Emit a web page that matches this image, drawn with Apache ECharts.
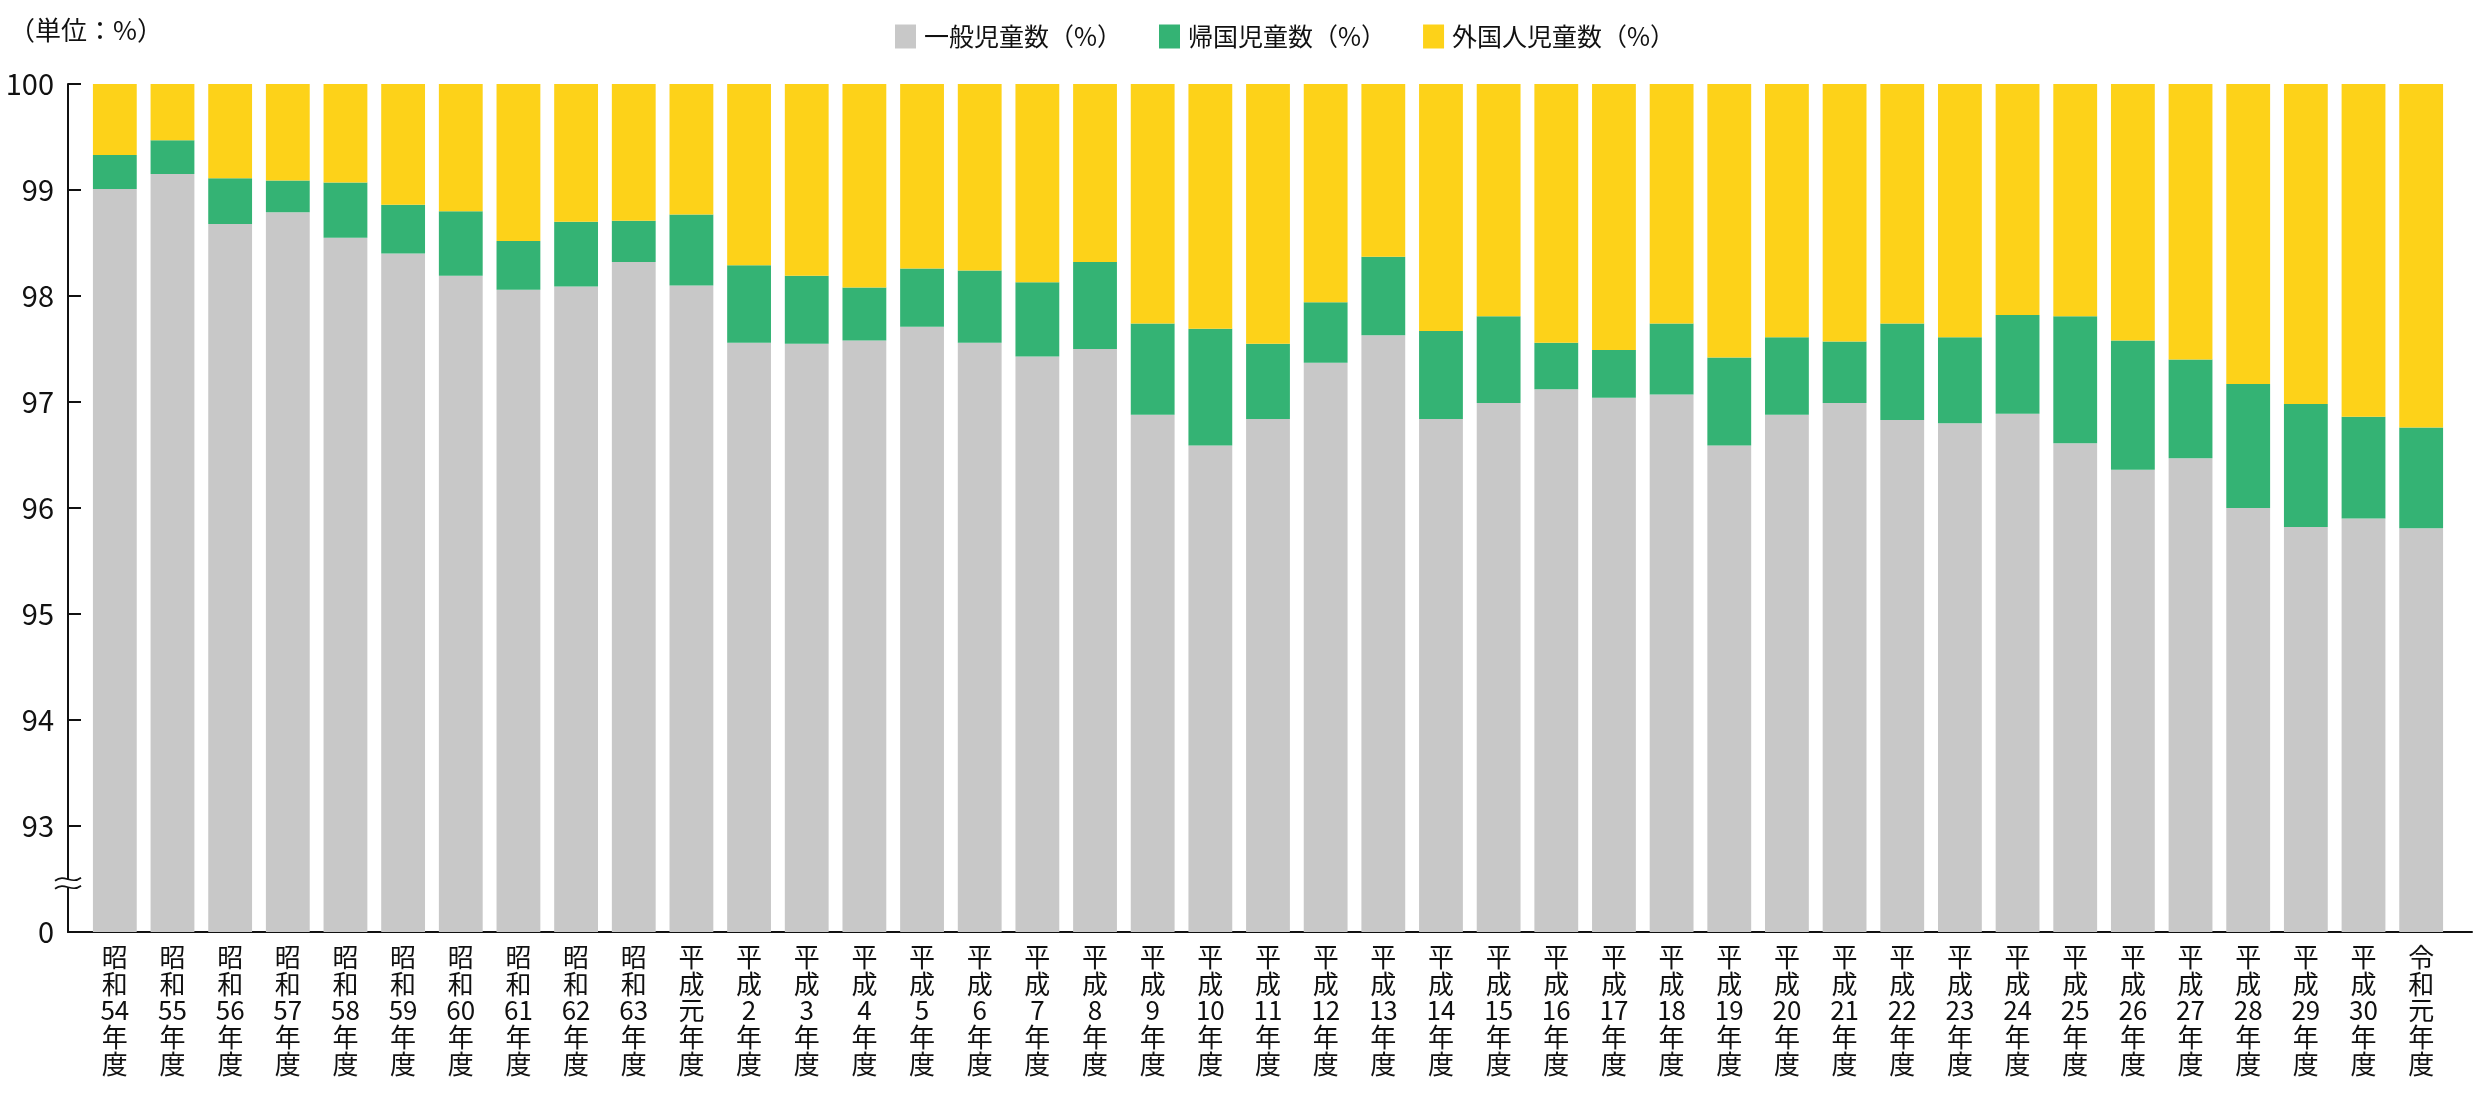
<!DOCTYPE html>
<html>
<head>
<meta charset="utf-8">
<script src="https://cdn.jsdelivr.net/npm/echarts@6/dist/echarts.min.js"></script>
<style>
html,body{margin:0;padding:0;background:#fff;}
#chart{width:2478px;height:1100px;}
</style>
</head>
<body>
<div id="chart"></div>
<script>
const categories = ['昭和54年度','昭和55年度','昭和56年度','昭和57年度','昭和58年度','昭和59年度','昭和60年度','昭和61年度','昭和62年度','昭和63年度',
  '平成元年度','平成2年度','平成3年度','平成4年度','平成5年度','平成6年度','平成7年度','平成8年度','平成9年度','平成10年度',
  '平成11年度','平成12年度','平成13年度','平成14年度','平成15年度','平成16年度','平成17年度','平成18年度','平成19年度','平成20年度',
  '平成21年度','平成22年度','平成23年度','平成24年度','平成25年度','平成26年度','平成27年度','平成28年度','平成29年度','平成30年度','令和元年度'];
const general = [99.01,99.15,98.68,98.79,98.55,98.40,98.19,98.06,98.09,98.32,
  98.10,97.56,97.55,97.58,97.71,97.56,97.43,97.50,96.88,96.59,
  96.84,97.37,97.63,96.84,96.99,97.12,97.04,97.07,96.59,96.88,
  96.99,96.83,96.80,96.89,96.61,96.36,96.47,96.00,95.82,95.90,95.81];
const returnee = [0.32,0.32,0.43,0.30,0.52,0.46,0.61,0.46,0.61,0.39,
  0.67,0.73,0.64,0.50,0.55,0.68,0.70,0.82,0.86,1.10,
  0.71,0.57,0.74,0.83,0.82,0.44,0.45,0.67,0.83,0.73,
  0.58,0.91,0.81,0.93,1.20,1.22,0.93,1.17,1.16,0.96,0.95];
const foreign = [0.67,0.53,0.89,0.91,0.93,1.14,1.20,1.48,1.30,1.29,
  1.23,1.71,1.81,1.92,1.74,1.76,1.87,1.68,2.26,2.31,
  2.45,2.06,1.63,2.33,2.19,2.44,2.51,2.26,2.58,2.39,
  2.43,2.26,2.39,2.18,2.19,2.42,2.60,2.83,3.02,3.14,3.24];
const seriesNames = ['一般児童数（%）','帰国児童数（%）','外国人児童数（%）'];
const yTicks = {min: 92, max: 100, interval: 1, baseLabel: '0'};
const unitLabel = '（単位：%）';

const GRID_LEFT = 86, GRID_RIGHT = 28, GRID_TOP = 84, GRID_BOTTOM = 168, Y_OFFSET = 18;
const NARROW = "'Liberation Sans Narrow','Noto Sans CJK JP',sans-serif";
const colors = ['#c8c8c8','#34b374','#fdd219'];

const chart = echarts.init(document.getElementById('chart'), null, {renderer:'canvas'});
const option = {
  animation: false,
  backgroundColor: '#fff',
  title: {
    text: unitLabel, left: 4, top: 12,
    textStyle: {fontSize: 26, fontWeight: 'normal', color: '#111', fontFamily: NARROW}
  },
  legend: {
    data: seriesNames, top: 19, left: 890,
    icon: 'rect', itemWidth: 21, itemHeight: 24, itemGap: 37,
    textStyle: {fontSize: 25, color: '#111', fontFamily: NARROW, padding: [0,0,0,3]}
  },
  grid: [
    {left: GRID_LEFT, right: GRID_RIGHT, top: GRID_TOP, bottom: GRID_BOTTOM},
    {left: GRID_LEFT - Y_OFFSET, right: 6, top: GRID_TOP, bottom: GRID_BOTTOM}
  ],
  xAxis: [{
    type: 'category', data: categories, gridIndex: 0,
    axisLine: {show: false}, axisTick: {show: false},
    axisLabel: {
      interval: 0, margin: 12, fontSize: 26, lineHeight: 26.6, color: '#111',
      fontFamily: NARROW,
      formatter: v => v.match(/\d+|./g).join('\n')
    }
  }, {
    type: 'value', gridIndex: 1, min: 0, max: 1,
    axisLine: {show: true, lineStyle: {color: '#111', width: 2}},
    axisTick: {show: false}, axisLabel: {show: false}, splitLine: {show: false}
  }],
  yAxis: [{
    type: 'value', gridIndex: 0, min: yTicks.min, max: yTicks.max, interval: yTicks.interval,
    offset: Y_OFFSET,
    axisLine: {show: true, lineStyle: {color: '#111', width: 2}},
    axisTick: {show: true, inside: true, length: 13, lineStyle: {color: '#111', width: 2}},
    splitLine: {show: false},
    axisLabel: {
      margin: 14, fontSize: 29, color: '#111', fontFamily: NARROW,
      formatter: v => (v === yTicks.min ? yTicks.baseLabel : String(v))
    }
  }, {
    type: 'value', gridIndex: 1, show: false, min: 0, max: 1
  }],
  series: [
    {name: seriesNames[0], type: 'bar', stack: 'all', data: general, barCategoryGap: '24%', itemStyle: {color: colors[0]}},
    {name: seriesNames[1], type: 'bar', stack: 'all', data: returnee, itemStyle: {color: colors[1]}},
    {name: seriesNames[2], type: 'bar', stack: 'all', data: foreign, itemStyle: {color: colors[2]}}
  ]
};
chart.setOption(option);

// axis break mark between 0 and 93
const by = chart.convertToPixel({yAxisIndex: 0}, yTicks.min + 0.46);
const bx = GRID_LEFT - Y_OFFSET;
const wave = (y) => ({
  x1: bx - 13, y1: y + 1.5, x2: bx + 13, y2: y - 1.5,
  cpx1: bx - 3, cpy1: y - 6, cpx2: bx + 3, cpy2: y + 6
});
chart.setOption({
  graphic: [
    {type: 'rect', shape: {x: bx - 4, y: by - 4, width: 8, height: 8}, style: {fill: '#fff'}, z: 100},
    {type: 'bezierCurve', shape: wave(by - 4), style: {stroke: '#111', lineWidth: 1.6, fill: null}, z: 101},
    {type: 'bezierCurve', shape: wave(by + 4), style: {stroke: '#111', lineWidth: 1.6, fill: null}, z: 101}
  ]
});
</script>
</body>
</html>
